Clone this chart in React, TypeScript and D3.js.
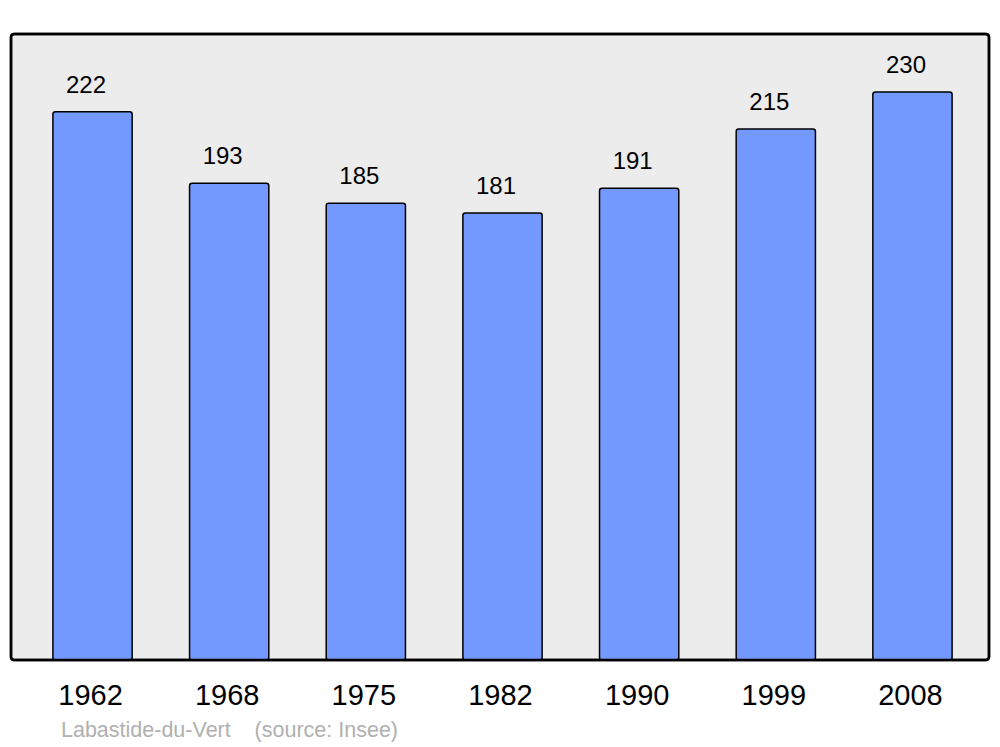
import React from "react";
import * as d3 from "d3";

const years = ["1962", "1968", "1975", "1982", "1990", "1999", "2008"];
const population = [222, 193, 185, 181, 191, 215, 230];
const caption = "Labastide-du-Vert    (source: Insee)";

export default function App() {
  const W = 1000, H = 747;
  const x = d3.scaleBand<string>().domain(years).range([16, 989]).paddingInner(0.42).paddingOuter(0.27);
  const y = d3.scaleLinear().domain([0, 230]).range([660, 92]);
  const font = "'Liberation Sans', Arial, sans-serif";
  return (
    <svg width={W} height={H} style={{ position: "absolute", left: 0, top: 0 }} fontFamily={font}>
      <rect x={0} y={0} width={W} height={H} fill="#ffffff" />
      <rect x={11} y={34} width={978} height={626} rx={3} ry={3} fill="#ececec" stroke="#000" strokeWidth={2.5} />
      {years.map((yr, i) => {
        const bx = x(yr)!;
        const bw = x.bandwidth();
        const top = y(population[i]);
        return (
          <g key={yr}>
            <rect x={bx} y={top} width={bw} height={y(0) - top} rx={2.5} ry={2.5} fill="#7399ff" stroke="#000" strokeWidth={1.5} />
            <text x={bx + bw / 2 - 6.5} y={top - 19} textAnchor="middle" fontSize={24} fill="#000">{population[i]}</text>
            <text x={bx + bw / 2 - 2} y={705} textAnchor="middle" fontSize={29} fill="#000">{yr}</text>
          </g>
        );
      })}
      <rect x={11} y={34} width={978} height={626} rx={3} ry={3} fill="none" stroke="#000" strokeWidth={2.5} />
      <text x={61} y={737} fontSize={21.5} fill="#b0b0b0" style={{ whiteSpace: "pre" }} xmlSpace="preserve">{caption}</text>
    </svg>
  );
}
